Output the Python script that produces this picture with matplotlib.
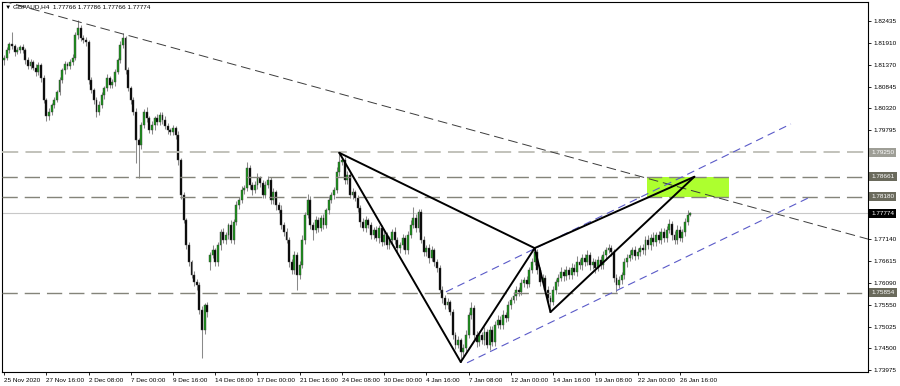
import numpy as np
import matplotlib
matplotlib.use("Agg")
import matplotlib.pyplot as plt
from matplotlib.patches import Rectangle

# ---------------- data ----------------
title_text = "\u25bc GBPAUD,H4  1.77766 1.77786 1.77766 1.77774"

first_open = 1.8149
close = [
    1.8154, 1.8173, 1.8188, 1.8183, 1.8168, 1.8173, 1.8180, 1.8173, 1.8149, 1.8134,
    1.8144, 1.8130, 1.8120, 1.8137, 1.8105, 1.8052, 1.8013, 1.8023, 1.8040, 1.8052,
    1.8071, 1.8100, 1.8125, 1.8139, 1.8134, 1.8144, 1.8154, 1.8210, 1.8227, 1.8202,
    1.8197, 1.8193, 1.8100, 1.8076, 1.8052, 1.8023, 1.8040, 1.8064, 1.8081, 1.8105,
    1.8088, 1.8096, 1.8120, 1.8149, 1.8185, 1.8202, 1.8125, 1.8081, 1.8052, 1.8023,
    1.7955, 1.7943, 1.7991, 1.8023, 1.8008, 1.7979, 1.7991, 1.8008, 1.7999, 1.8016,
    1.8004, 1.7989, 1.7979, 1.7974, 1.7984, 1.7967, 1.7907, 1.7822, 1.7761, 1.7700,
    1.7659, 1.7628, 1.7611, 1.7604, 1.7543, 1.7495, 1.7555, 1.7538,
    1.7676, 1.7688, 1.7659, 1.7700, 1.7732, 1.7713, 1.7725, 1.7749, 1.7713, 1.7756, 1.7798, 1.7810,
    1.7834, 1.7839, 1.7887, 1.7846, 1.7834, 1.7846, 1.7863, 1.7851, 1.7822, 1.7846,
    1.7858, 1.7810, 1.7829, 1.7798, 1.7785, 1.7749, 1.7732, 1.7713, 1.7659, 1.7640,
    1.7676, 1.7628, 1.7652, 1.7713, 1.7773, 1.7810, 1.7749, 1.7737, 1.7761, 1.7742,
    1.7766, 1.7749, 1.7785, 1.7810, 1.7822, 1.7834, 1.7878, 1.7902, 1.7907, 1.7858,
    1.7870, 1.7822, 1.7829, 1.7814, 1.7790, 1.7756, 1.7742, 1.7761, 1.7749, 1.7725,
    1.7737, 1.7718, 1.7742, 1.7708, 1.7725, 1.7700, 1.7713, 1.7732, 1.7713, 1.7693,
    1.7700, 1.7718, 1.7688, 1.7725, 1.7749, 1.7766, 1.7742, 1.7781, 1.7713, 1.7684,
    1.7693, 1.7669, 1.7688, 1.7659, 1.7645, 1.7591, 1.7572, 1.7555, 1.7562, 1.7538,
    1.7482, 1.7458, 1.7470, 1.7441, 1.7451, 1.7482, 1.7531, 1.7548, 1.7482, 1.7465,
    1.7482, 1.7470, 1.7490, 1.7458, 1.7495, 1.7465, 1.7507, 1.7519, 1.7507, 1.7531,
    1.7524, 1.7555, 1.7567, 1.7577, 1.7591, 1.7587, 1.7608, 1.7616, 1.7606, 1.7640,
    1.7659, 1.7684, 1.7640, 1.7611, 1.7621, 1.7591, 1.7572, 1.7562, 1.7591, 1.7611,
    1.7621, 1.7635, 1.7625, 1.7640, 1.7628, 1.7645, 1.7635, 1.7659, 1.7652, 1.7669,
    1.7659, 1.7676, 1.7652, 1.7659, 1.7645, 1.7664, 1.7652, 1.7676, 1.7688, 1.7693,
    1.7684, 1.7621, 1.7604, 1.7616, 1.7628, 1.7659, 1.7669, 1.7676, 1.7688, 1.7674,
    1.7684, 1.7693, 1.7688, 1.7713, 1.7700, 1.7718, 1.7708, 1.7725, 1.7713, 1.7732,
    1.7718, 1.7737, 1.7751, 1.7725, 1.7713, 1.7737, 1.7718, 1.7732, 1.7756, 1.7773, 1.77774,
]
# upper / lower shadow lengths in pips (0.0001)
up_pips = [
    6, 8, 5, 29, 4, 7, 6, 9, 5, 8,
    7, 4, 9, 6, 5, 8, 6, 10, 5, 7,
    6, 9, 5, 8, 6, 7, 10, 8, 19, 6,
    8, 7, 5, 9, 6, 8, 10, 7, 6, 9,
    5, 8, 7, 6, 10, 12, 6, 8, 5, 7,
    9, 6, 8, 7, 12, 6, 9, 5, 11, 8,
    6, 9, 7, 5, 8, 6, 10, 5, 8, 6,
    7, 5, 9, 6, 8, 10, 6, 7,
    8, 12, 6, 9, 7, 10, 8, 6, 12, 7, 9, 8,
    10, 6, 15, 8, 7, 9, 12, 6, 8, 10,
    9, 7, 10, 6, 8, 12, 7, 9, 6, 8,
    10, 7, 9, 12, 8, 14, 9, 7, 10, 8,
    7, 9, 6, 10, 8, 7, 12, 22, 8, 6,
    9, 7, 10, 6, 8, 7, 9, 10, 6, 8,
    7, 10, 8, 6, 9, 7, 10, 8, 12, 7,
    8, 10, 7, 9, 12, 27, 10, 8, 6, 9,
    7, 9, 10, 6, 8, 7, 9, 8, 10, 6,
    8, 7, 9, 6, 10, 12, 8, 14, 7, 9,
    10, 8, 12, 7, 9, 8, 10, 12, 9, 11,
    8, 10, 7, 9, 11, 8, 10, 7, 9, 8,
    10, 9, 7, 8, 10, 6, 9, 7, 10, 8,
    9, 12, 7, 10, 8, 11, 9, 14, 8, 10,
    9, 12, 8, 10, 7, 9, 11, 10, 8, 9,
    8, 7, 10, 9, 8, 11, 9, 12, 8, 10,
    9, 8, 11, 10, 12, 9, 14, 8, 10, 9,
    10, 9, 12, 8, 10, 13, 9, 8, 10, 12, 4,
]
dn_pips = [
    12, 6, 8, 7, 9, 5, 8, 6, 10, 7,
    8, 6, 10, 7, 9, 8, 12, 10, 7, 8,
    6, 8, 7, 9, 6, 8, 7, 6, 9, 8,
    7, 9, 8, 6, 10, 13, 8, 7, 9, 6,
    8, 7, 9, 6, 8, 7, 10, 8, 9, 7,
    56, 80, 9, 7, 10, 8, 9, 12, 7, 8,
    9, 7, 10, 8, 6, 9, 12, 10, 8, 9,
    10, 8, 9, 12, 10, 68, 9, 11,
    20, 8, 10, 9, 12, 8, 10, 9, 7, 11, 8, 9,
    7, 9, 8, 10, 12, 8, 9, 11, 8, 7,
    8, 10, 9, 12, 8, 9, 10, 8, 11, 9,
    10, 37, 9, 8, 10, 7, 9, 25, 8, 10,
    8, 10, 7, 9, 8, 10, 7, 9, 8, 10,
    9, 8, 10, 7, 9, 11, 8, 10, 7, 9,
    10, 8, 12, 9, 7, 10, 9, 8, 11, 9,
    12, 8, 10, 9, 7, 8, 10, 9, 8, 11,
    9, 12, 8, 10, 9, 8, 11, 9, 10, 8,
    9, 10, 8, 24, 9, 7, 8, 10, 9, 12,
    10, 9, 11, 8, 12, 9, 10, 8, 9, 10,
    9, 8, 10, 7, 9, 11, 8, 10, 9, 8,
    8, 7, 10, 9, 8, 10, 9, 24, 8, 10,
    9, 8, 12, 10, 9, 11, 8, 10, 9, 12,
    10, 8, 11, 9, 12, 8, 10, 9, 11, 8,
    9, 10, 17, 8, 10, 9, 11, 8, 10, 9,
    8, 10, 9, 11, 8, 12, 9, 10, 8, 11,
    9, 10, 8, 12, 9, 11, 8, 10, 9, 8, 3,
]
gap_opens = {78: 1.7659}   # weekend gap (Monday 14 Dec open)

x_tick_bars = list(range(0, 257, 16))
x_tick_labels = ["25 Nov 2020", "27 Nov 16:00", "2 Dec 08:00", "7 Dec 00:00",
                 "9 Dec 16:00", "14 Dec 08:00", "17 Dec 00:00", "21 Dec 16:00",
                 "24 Dec 08:00", "30 Dec 00:00", "4 Jan 16:00", "7 Jan 08:00",
                 "12 Jan 00:00", "14 Jan 16:00", "19 Jan 08:00", "22 Jan 00:00",
                 "26 Jan 16:00"]
y_ticks = [1.82435, 1.81910, 1.81370, 1.80845, 1.80320, 1.79795, 1.77140,
           1.76615, 1.76090, 1.75550, 1.75025, 1.74500, 1.73975]

level_light = 1.79250
levels_dark = [1.78661, 1.78180, 1.75854]
bid_price = 1.77774

# trendline anchors (bar index, price)
desc_trend = [(28, 1.8242), (250, 1.7851)]
chan_upper = [(167.4, 1.7587), (298.1, 1.7994)]
chan_lower = [(175.4, 1.7415), (306.1, 1.7819)]
# harmonic pattern points X, A, B, C, D
pat_x = [127, 173, 201, 207, 261.5]
pat_y = [1.7924, 1.7417, 1.7693, 1.7538, 1.7866]
zone_bars = (243.6, 274.6)
zone_prices = (1.78180, 1.78661)

# ---------------- figure ----------------
W, H = 900, 386
fig = plt.figure(figsize=(W / 100, H / 100), dpi=100)
ax = fig.add_axes([2 / W, 14 / H, 866 / W, 370 / H])
ax.set_xlim(-0.8, 327.3)
ax.set_ylim(1.73927, 1.82896)

fs = 4.6
font = "Liberation Sans"

c = np.array(close)
o = np.r_[first_open, c[:-1]]
for k, v in gap_opens.items():
    o[k] = v
hi = np.maximum(o, c) + np.array(up_pips) * 1e-4
lo = np.minimum(o, c) - np.array(dn_pips) * 1e-4
idx = np.arange(len(c))

ax.vlines(idx, lo, hi, color="#8a8a8a", lw=0.75, zorder=2)
bull = c >= o
body_b = np.minimum(o, c)
body_h = np.maximum(np.abs(c - o), 0.00006)
ax.bar(idx[bull], body_h[bull], bottom=body_b[bull], width=0.72,
       color="#1a961a", edgecolor="#3a3a3a", linewidth=0.3, zorder=3)
ax.bar(idx[~bull], body_h[~bull], bottom=body_b[~bull], width=0.72,
       color="#000000", edgecolor="#404040", linewidth=0.3, zorder=3)

# zone
ax.add_patch(Rectangle((zone_bars[0], zone_prices[0]), zone_bars[1] - zone_bars[0],
                       zone_prices[1] - zone_prices[0], facecolor="#adff2f",
                       edgecolor="none", zorder=1))

# horizontal levels
ax.axhline(level_light, color="#bdbdb5", lw=1.3, ls=(0, (9, 4)), zorder=4)
for lv in levels_dark:
    ax.axhline(lv, color="#84847a", lw=1.0, ls=(0, (11, 5)), zorder=4)
ax.axhline(bid_price, color="#c8c8c8", lw=0.8, zorder=1.5)

# descending trendline as ray across the chart
(x1, y1), (x2, y2) = desc_trend
sl = (y2 - y1) / (x2 - x1)
xl = np.array(ax.get_xlim())
ax.plot(xl, y1 + sl * (xl - x1), color="#3c3c3c", lw=0.7, ls=(0, (10, 5)), zorder=4)

# channel lines
for seg in (chan_upper, chan_lower):
    ax.plot([seg[0][0], seg[1][0]], [seg[0][1], seg[1][1]], color="#5a5ac8",
            lw=0.8, ls=(0, (7, 4.5)), zorder=4)

# harmonic pattern (XAB and BCD triangles)
X, A, B, C, D = list(zip(pat_x, pat_y))
for p, q in [(X, A), (A, B), (X, B), (B, C), (C, D), (B, D)]:
    ax.plot([p[0], q[0]], [p[1], q[1]], color="black", lw=1.4,
            solid_capstyle="round", zorder=5)

# axes styling
for s in ax.spines.values():
    s.set_color("#000000")
    s.set_linewidth(0.8)
ax.yaxis.tick_right()
ax.set_yticks(y_ticks)
ax.set_yticklabels([f"{v:.5f}" for v in y_ticks], fontsize=fs, family=font)
ax.set_xticks(x_tick_bars)
ax.set_xticklabels(x_tick_labels, fontsize=fs, family=font, ha="left")
ax.tick_params(axis="y", length=2.5, width=0.6, pad=1.5, colors="black")
ax.tick_params(axis="x", length=2.5, width=0.6, pad=1.5, colors="black")
for lab in ax.get_xticklabels():
    lab.set_horizontalalignment("left")

# price label boxes on the right axis
def price_box(val, fc):
    ax.annotate(f"{val:.5f}", xy=(1.0, val), xycoords=("axes fraction", "data"),
                xytext=(2.2, 0), textcoords="offset points", ha="left", va="center",
                fontsize=fs, family=font, color="white", annotation_clip=False,
                bbox=dict(boxstyle="square,pad=0.35", fc=fc, ec="none"), zorder=10)

price_box(level_light, "#9e9e96")
for lv in levels_dark:
    price_box(lv, "#6a6a5c")
price_box(bid_price, "#000000")

ax.text(0.004, 0.993, title_text, transform=ax.transAxes, ha="left", va="top",
        fontsize=fs, family=["Liberation Sans", "DejaVu Sans"], color="black", zorder=10)

fig.savefig("out.png", dpi=100)
